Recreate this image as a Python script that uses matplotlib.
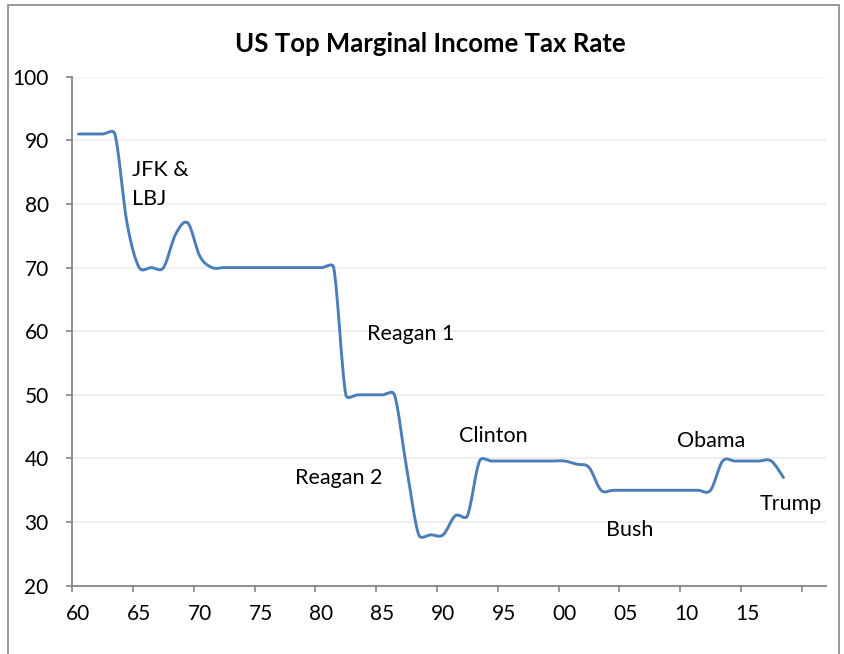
import matplotlib
matplotlib.use("Agg")
import matplotlib.pyplot as plt
from matplotlib.path import Path
from matplotlib.patches import PathPatch, Rectangle

# yearly top marginal rate, 1960-2018
years = list(range(1960, 2019))
rates = [91, 91, 91, 91, 77, 70, 70, 70, 75.25, 77,
         71.75, 70, 70, 70, 70, 70, 70, 70, 70, 70,
         70, 70, 50, 50, 50, 50, 50, 38.5, 28, 28,
         28, 31, 31, 39.6, 39.6, 39.6, 39.6, 39.6, 39.6, 39.6,
         39.6, 39.1, 38.6, 35, 35, 35, 35, 35, 35, 35,
         35, 35, 35, 39.6, 39.6, 39.6, 39.6, 39.6, 37]

tick_labels = ["60", "65", "70", "75", "80", "85", "90", "95", "00", "05", "10", "15"]
label_years = list(range(1960, 2016, 5))

notes = ["JFK &\nLBJ", "Reagan 1", "Reagan 2", "Clinton", "Bush", "Obama", "Trump"]
note_x = [1964.4, 1983.75, 1977.8, 1991.3, 2003.4, 2009.25, 2016.05]
note_y = [83.0, 59.5, 36.9, 43.5, 28.7, 42.7, 32.8]

plt.rcParams['font.family'] = ['Lato', 'DejaVu Sans']

fig = plt.figure(figsize=(8.45, 6.54), dpi=100)
ax = fig.add_axes([0.0856, 0.1044, 0.8919, 0.7783])
ax.set_xlim(1959.5, 2021.5)
ax.set_ylim(20, 100)

# smoothed line like Excel: catmull-rom bezier, arms clamped to half the segment (in pixels)
pts = list(zip(years, rates))
disp = ax.transData.transform(pts)
n = len(pts)

def seglen(i, j):
    dx = disp[j][0] - disp[i][0]
    dy = disp[j][1] - disp[i][1]
    return (dx * dx + dy * dy) ** 0.5

def arm_scale(i, d_cur):
    # tangent at point i is (p[i+1] - p[i-1]) / 6, limited to half the segment
    a, b = max(i - 1, 0), min(i + 1, n - 1)
    t = seglen(a, b)
    if t == 0:
        return 0
    return min(1 / 6, 0.5 * d_cur / t)

verts = [pts[0]]
codes = [Path.MOVETO]
for i in range(n - 1):
    d_cur = seglen(i, i + 1)
    a, b = max(i - 1, 0), min(i + 2, n - 1)
    w1 = arm_scale(i, d_cur) if i > 0 else 0
    w2 = arm_scale(i + 1, d_cur) if i + 2 < n else 0
    p1, p2 = pts[i], pts[i + 1]
    c1 = (p1[0] + (p2[0] - pts[a][0]) * w1, p1[1] + (p2[1] - pts[a][1]) * w1)
    c2 = (p2[0] - (pts[b][0] - p1[0]) * w2, p2[1] - (pts[b][1] - p1[1]) * w2)
    verts += [c1, c2, p2]
    codes += [Path.CURVE4] * 3
ax.add_patch(PathPatch(Path(verts, codes), facecolor='none',
                       edgecolor='#4A7EBB', lw=2.1, capstyle='round', zorder=3))

ax.set_yticks(range(20, 101, 10))
ax.yaxis.grid(True, color='#EEEEEE', lw=1.3)
ax.set_axisbelow(True)

ax.set_xticks([y - 0.5 for y in range(1960, 2021, 5)])
ax.set_xticklabels([])
ax.set_xticks(label_years, minor=True)
ax.set_xticklabels(tick_labels, minor=True)
ax.tick_params(axis='x', which='major', length=4, color='#868686', width=1.2)
ax.tick_params(axis='x', which='minor', length=0, pad=13, labelsize=15)
ax.tick_params(axis='y', length=4, color='#868686', width=1.2, labelsize=15, pad=13)

for s in ['top', 'right']:
    ax.spines[s].set_visible(False)
for s in ['left', 'bottom']:
    ax.spines[s].set_color('#868686')
    ax.spines[s].set_linewidth(1.3)

for t, x, y in zip(notes, note_x, note_y):
    ax.text(x, y, t, fontsize=15.5, ha='left', va='center', linespacing=1.55)

fig.text(0.509, 0.9327, "US Top Marginal Income Tax Rate", ha='center', va='center',
         fontsize=18.5, fontweight='bold')

# chart area border
fig.add_artist(Rectangle((8 / 845, -0.1), 831 / 845, 1.1 - 5 / 654, transform=fig.transFigure,
                         facecolor='none', edgecolor='#868686', lw=1.2))

fig.savefig("out.png", dpi=100)
